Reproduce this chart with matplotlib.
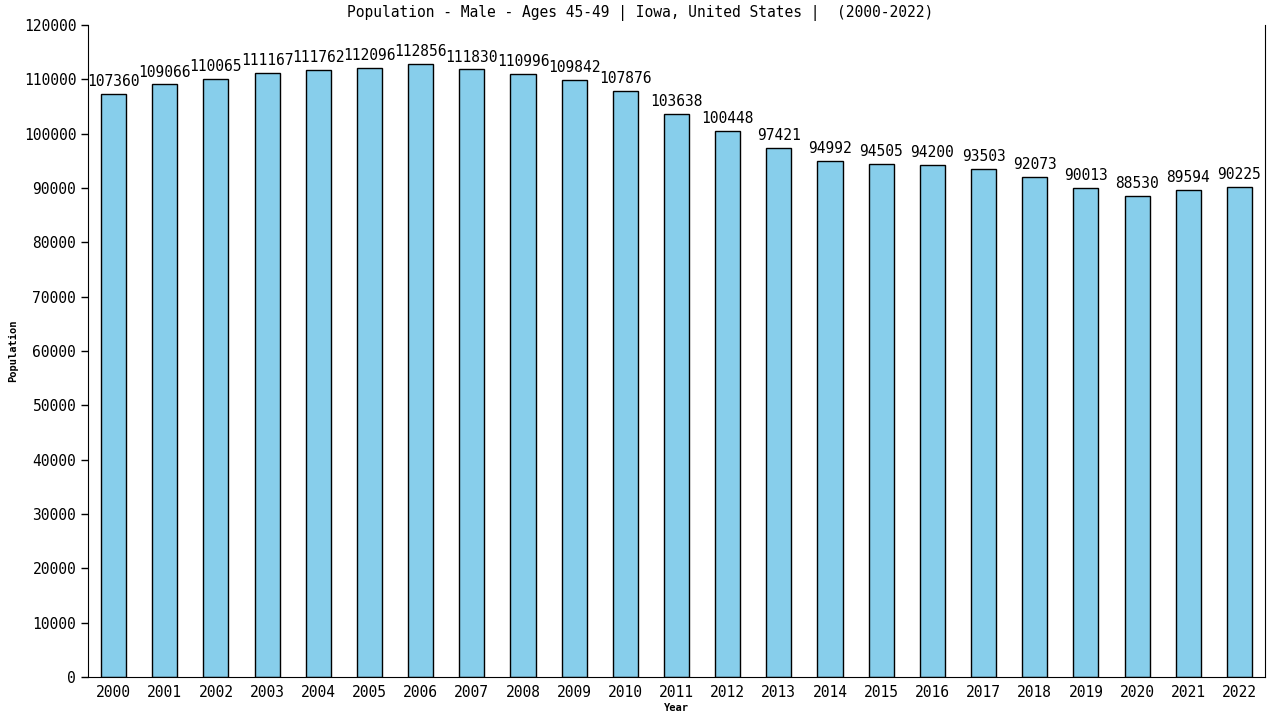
import matplotlib
matplotlib.use("Agg")
import matplotlib.pyplot as plt

years = [str(y) for y in range(2000, 2023)]
population = [107360, 109066, 110065, 111167, 111762, 112096, 112856, 111830,
              110996, 109842, 107876, 103638, 100448, 97421, 94992, 94505,
              94200, 93503, 92073, 90013, 88530, 89594, 90225]
yticks = list(range(0, 120001, 10000))

plt.rcParams['font.family'] = ['DejaVu Sans Mono']

fig = plt.figure(figsize=(12.8, 7.2), dpi=100)
ax = fig.add_axes([88 / 1280, 43 / 720, (1265 - 88) / 1280, (677 - 25) / 720])

x = list(range(len(years)))
ax.bar(x, population, width=0.49, color="#87ceeb", edgecolor="black", linewidth=1)

for xi, v in zip(x, population):
    ax.text(xi, v + 900, str(v), ha="center", va="bottom", fontsize=10.5)

ax.set_xlim(-0.5, 22.5)
ax.set_ylim(0, 120000)
ax.set_xticks(x)
ax.set_xticklabels(years, fontsize=10.5)
ax.set_yticks(yticks)
ax.set_yticklabels([str(t) for t in yticks], fontsize=10.5)
ax.tick_params(axis="both", direction="out", length=5, width=1)
ax.tick_params(axis="x", length=0, pad=6)
ax.spines["top"].set_visible(False)

ax.set_xlabel("Year", fontsize=7.5, fontweight="bold", labelpad=2)
ax.set_ylabel("Population", fontsize=7.5, fontweight="bold", labelpad=4)
fig.text(0.5, 1 - 13 / 720, "Population - Male - Ages 45-49 | Iowa, United States |  (2000-2022)",
         ha="center", va="center", fontsize=10.5)

fig.savefig("out.png", dpi=100)
